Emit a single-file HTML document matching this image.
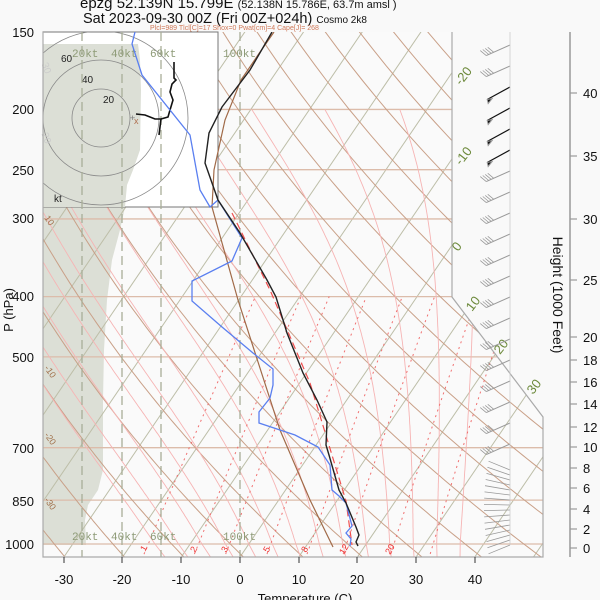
<!DOCTYPE html>
<html><head><meta charset="utf-8">
<style>
html,body{margin:0;padding:0;background:#f9f9f9;}
svg{display:block;font-family:"Liberation Sans",sans-serif;}
</style></head>
<body>
<svg id="s" width="600" height="600" viewBox="0 0 600 600" xmlns="http://www.w3.org/2000/svg">
<defs>
<clipPath id="pc"><polygon points="43,32 452,32 452,297 543,417 543,557 43,557"/></clipPath>
<clipPath id="hc"><rect x="43" y="32" width="175" height="175"/></clipPath>
</defs>
<rect x="0" y="0" width="600" height="600" fill="#f9f9f9"/>
<polygon points="43,32 452,32 452,297 543,417 543,557 43,557" fill="#fafafa"/>
<path d="M43,207 L125,207 L120,230 L112,260 L107,300 L104,350 L103,400 L103,470 L98,490 L88,505 L85,520 L86,545 L43,545 Z" fill="#dcdfd6" clip-path="url(#pc)"/>
<g id="grid" clip-path="url(#pc)"></g>
<rect x="43" y="32" width="175" height="175" fill="#ffffff" stroke="#777" stroke-width="1"/>
<path d="M43,44 L138,44 L140,60 L141,90 L140,150 L133,170 L127,185 L125,207 L43,207 Z" fill="#dcdfd6"/>
<g clip-path="url(#hc)" fill="none" stroke="#888" stroke-width="0.8">
<circle cx="101" cy="118" r="29"/><circle cx="101" cy="118" r="58"/><circle cx="101" cy="118" r="87"/>
</g>
<text x="40" y="74" font-size="10" fill="#ccc" transform="rotate(70 48 70)">30</text>
<text x="40" y="144" font-size="10" fill="#ccc" transform="rotate(70 48 140)">20</text>
<g font-size="10" fill="#222"><text x="61" y="62">60</text><text x="82" y="83">40</text><text x="103" y="103">20</text><text x="54" y="202">kt</text></g>
<g stroke="#a9ae98" stroke-width="1.3" stroke-dasharray="9,5">
<line x1="82" y1="32" x2="82" y2="557"/><line x1="122" y1="32" x2="122" y2="557"/><line x1="161" y1="32" x2="161" y2="557"/><line x1="240" y1="32" x2="240" y2="557"/>
</g>
<g font-family="Liberation Mono,monospace" font-size="11" fill="#8d9a76">
<text x="72" y="57">20kt</text><text x="111" y="57">40kt</text><text x="150" y="57">60kt</text><text x="223" y="57">100kt</text>
<text x="72" y="540">20kt</text><text x="111" y="540">40kt</text><text x="150" y="540">60kt</text><text x="223" y="540">100kt</text>
</g>
<text x="130" y="121" font-size="9" fill="#777">+</text>
<text x="134" y="124" font-size="9" fill="#b07050">x</text>
<path d="M174,62 L174,78 L176,80 L172,84 L170,92 L173,100 L170,110 L168,117 L161,119 L159,135 M136,114 L145,115 L155,119 L161,119" fill="none" stroke="#111" stroke-width="1.6"/>
<g fill="none" clip-path="url(#pc)">
<path d="M274,32 L258,55 L241,80 L225,120 L214,170 L212,207 L238,300 L280,430 L310,500 L333,547" stroke="#a06a48" stroke-width="1.2"/>
<path d="M232,213 L270,290 L310,383 L346,501 L352,545" stroke="#f05050" stroke-width="1.2" stroke-dasharray="7,4"/>
<path d="M135,32 L132,44 L142,75 L190,135 L200,190 L210,207 L218,200 L242,238 L232,261 L192,281 L192,301 L222,327 L253,353 L273,369 L273,385 L270,398 L259,412 L259,423 L283,431 L295,435 L318,447 L330,465 L332,490 L339,496 L346,503 L352,526 L346,533 L351,539 L350,546" stroke="#5a7ff0" stroke-width="1.3"/>
<path d="M272,32 L250,70 L222,107 L209,133 L205,163 L218,200 L240,233 L267,280 L276,297 L287,333 L303,373 L317,400 L327,422 L326,445 L329,455 L339,490 L346,503 L356,527 L359,535 L356,542 L358,546" stroke="#222" stroke-width="1.4"/>
</g>
<polyline points="452,32 452,297 543,417 543,557 43,557 43,32" fill="none" stroke="#aaa" stroke-width="1.2"/>
<g font-size="13" fill="#6d8a3c">
<text transform="translate(461,86) rotate(-52)">-20</text>
<text transform="translate(461,166) rotate(-52)">-10</text>
<text transform="translate(458,252) rotate(-52)">0</text>
<text transform="translate(472,312) rotate(-52)">10</text>
<text transform="translate(500,355) rotate(-52)">20</text>
<text transform="translate(533,395) rotate(-52)">30</text>
</g>
<g font-size="9" fill="#a0704a">
<text transform="translate(44,218) rotate(55)">10</text>
<text transform="translate(44,368) rotate(55)">-10</text>
<text transform="translate(44,435) rotate(55)">-20</text>
<text transform="translate(44,500) rotate(55)">-30</text>
</g>
<g font-size="9" fill="#f03030">
<text transform="translate(145,552) rotate(-60)">1</text>
<text transform="translate(195,553) rotate(-60)">2</text>
<text transform="translate(226,553) rotate(-60)">3</text>
<text transform="translate(268,553) rotate(-60)">5</text>
<text transform="translate(306,553) rotate(-60)">8</text>
<text transform="translate(344,555) rotate(-60)">12</text>
<text transform="translate(390,555) rotate(-60)">20</text>
</g>
<g id="barbs" fill="none" stroke="#999" stroke-width="1"></g>
<line x1="510" y1="32" x2="510" y2="545" stroke="#ccc" stroke-width="0.8"/>
<g font-size="13" fill="#111" text-anchor="end">
<text x="34" y="37">150</text><text x="34" y="114">200</text><text x="34" y="175">250</text><text x="34" y="223">300</text>
<text x="34" y="301">400</text><text x="34" y="362">500</text><text x="34" y="453">700</text><text x="34" y="506">850</text><text x="34" y="549">1000</text>
</g>
<text transform="translate(13,310) rotate(-90)" font-size="13" fill="#111" text-anchor="middle">P (hPa)</text>
<g stroke="#333"><line x1="64" y1="557" x2="64" y2="563"/><line x1="122" y1="557" x2="122" y2="563"/><line x1="181" y1="557" x2="181" y2="563"/><line x1="240" y1="557" x2="240" y2="563"/><line x1="299" y1="557" x2="299" y2="563"/><line x1="357" y1="557" x2="357" y2="563"/><line x1="416" y1="557" x2="416" y2="563"/><line x1="475" y1="557" x2="475" y2="563"/></g>
<g font-size="13" fill="#111" text-anchor="middle">
<text x="64" y="584">-30</text><text x="122" y="584">-20</text><text x="181" y="584">-10</text><text x="240" y="584">0</text><text x="299" y="584">10</text><text x="357" y="584">20</text><text x="416" y="584">30</text><text x="475" y="584">40</text>
<text x="305" y="603">Temperature (C)</text>
</g>
<line x1="570" y1="32" x2="570" y2="557" stroke="#999" stroke-width="1.5"/>
<g id="rax" font-size="13" fill="#111"></g>
<text transform="translate(553,295) rotate(90)" font-size="14" fill="#111" text-anchor="middle">Height (1000 Feet)</text>
<text x="80" y="8" font-size="15" fill="#111">epzg 52.139N 15.799E <tspan font-size="11">(52.138N 15.786E,  63.7m amsl )</tspan></text>
<text x="83" y="23" font-size="14.5" fill="#111">Sat 2023-09-30 00Z (Fri 00Z+024h) <tspan font-size="10">Cosmo 2k8</tspan></text>
<text x="150" y="30" font-size="7" fill="#d07a5a">Plcl=989 Tlcl[C]=17 Shox=0 Pwat[cm]=4 Cape[J]= 268</text>
<script>
(function(){
var NS="http://www.w3.org/2000/svg";
function Y(p){return 544-270*Math.log(1000/p);}
function X(T,y){return 240+5.87*T+0.68*(557-y);}
var g=document.getElementById("grid");
function path(d,st,w,da){var e=document.createElementNS(NS,"path");e.setAttribute("d",d);e.setAttribute("fill","none");e.setAttribute("stroke",st);e.setAttribute("stroke-width",w);if(da)e.setAttribute("stroke-dasharray",da);g.appendChild(e);}
for(var T=-120;T<=50;T+=10){path("M"+X(T,600)+",600 L"+X(T,0)+",0","#bdbea8",1);}
[1000,850,700,500,400,300,250,200].forEach(function(p){var y=Y(p);path("M43,"+y+" L543,"+y,"#dcbcaa",1.3);});
for(var th=220;th<=500;th+=10){var d="";for(var p=1060;p>=140;p-=10){var T=th*Math.pow(p/1000,0.2857)-273.15;var y=Y(p);d+=(d?"L":"M")+X(T,y).toFixed(1)+","+y.toFixed(1)+" ";}path(d,"#c9a088",1);}
function es(T){return 6.112*Math.exp(17.67*T/(T+243.5));}
function step(T,p,dp){var e=es(T-273.15);var rs=0.622*e/(p-e);var Lv=2.5e6;var num=(287*T+Lv*rs);var den=(1004+Lv*Lv*rs*0.622/(287*T*T));return dp/p*num/den;}
for(var T0=-16;T0<=36;T0+=4){var Tk=T0+273.15,p,pts=[];
 var t=Tk;for(p=1000;p<=1060;p+=5){t+=step(t,p,5);}var tb=t;
 t=Tk;for(p=1000;p>=200;p-=5){pts.push([p,t]);t-=step(t,p,5);}
 var d="M"+X(tb-273.15,Y(1060)).toFixed(1)+","+Y(1060).toFixed(1)+" ";
 pts.forEach(function(q){var y=Y(q[0]);d+="L"+X(q[1]-273.15,y).toFixed(1)+","+y.toFixed(1)+" ";});
 path(d,"#f6b4b4",0.9);}
[1,2,3,5,8,12,20,30].forEach(function(w){var d="";for(var p=1060;p>=400;p-=20){var e=w*p/(622+w);var l=Math.log(e/6.112);var Td=243.5*l/(17.67-l);var y=Y(p);d+=(d?"L":"M")+X(Td,y).toFixed(1)+","+y.toFixed(1)+" ";}path(d,"#f07070",1,"2,4");});
var b=document.getElementById("barbs");
function ln(x1,y1,x2,y2,c,w){var e=document.createElementNS(NS,"line");e.setAttribute("x1",x1);e.setAttribute("y1",y1);e.setAttribute("x2",x2);e.setAttribute("y2",y2);e.setAttribute("stroke",c);e.setAttribute("stroke-width",w||1);b.appendChild(e);}
for(var y=45;y<=460;y+=21){var black=(y>=80&&y<=160);var c=black?"#111":"#999";var ang=black?0.5:0.42;var L=26;var x2=510-L*Math.cos(ang),y2=y+L*Math.sin(ang);ln(510,y,x2,y2,c,black?1.2:1);
 if(black){var t=document.createElementNS(NS,"polygon");t.setAttribute("points",x2+","+y2+" "+(x2+5)+","+(y2-1)+" "+(x2+1)+","+(y2+4));t.setAttribute("fill","#111");b.appendChild(t);}
 else{for(var k=0;k<4;k++){var px=x2+k*2.5,py=y2-k*1.1;ln(px,py,px-6,py-5,c,0.8);}}}
for(var y=470;y<=545;y+=5){var a=-0.6+(y-470)/75*1.2;var x2=510-26*Math.cos(a),y2=y+26*Math.sin(a)*0.6;ln(510,y,x2,y2,"#999",0.8);}
var r=document.getElementById("rax");
[[0,548],[2,529],[4,509],[6,488],[8,468],[10,447],[12,427],[14,404],[16,382],[18,360],[20,337],[25,280],[30,219],[35,156],[40,93]].forEach(function(q){
 var e=document.createElementNS(NS,"line");e.setAttribute("x1",570);e.setAttribute("x2",577);e.setAttribute("y1",q[1]);e.setAttribute("y2",q[1]);e.setAttribute("stroke","#999");e.setAttribute("stroke-width",1.2);r.appendChild(e);
 var t=document.createElementNS(NS,"text");t.setAttribute("x",583);t.setAttribute("y",q[1]+5);t.textContent=q[0];r.appendChild(t);});
})();
</script>
</svg>
</body></html>
